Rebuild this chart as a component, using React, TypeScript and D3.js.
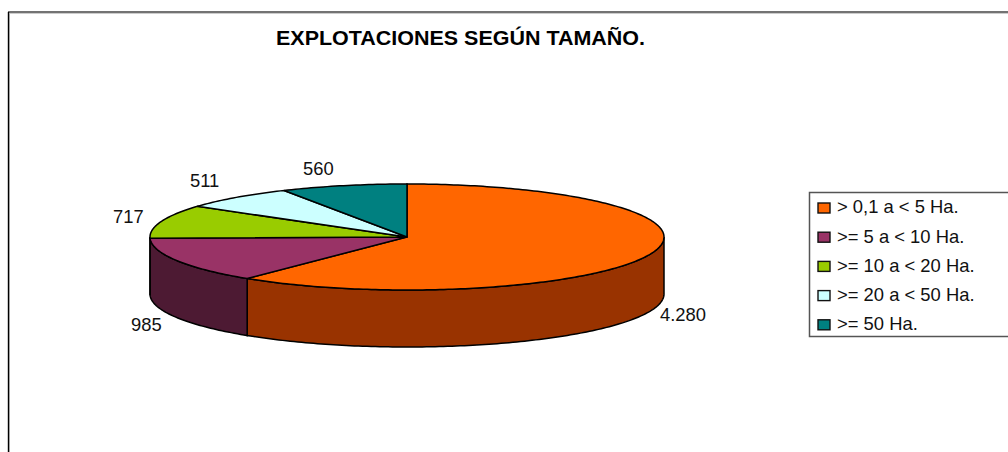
import React from 'react';
import * as d3 from 'd3';

const categories = ['> 0,1 a < 5 Ha.', '>= 5 a < 10 Ha.', '>= 10 a < 20 Ha.', '>= 20 a < 50 Ha.', '>= 50 Ha.'];
const values = [4280, 985, 717, 511, 560];
const valueLabels = ['4.280', '985', '717', '511', '560'];
const topColors = ['#FF6600', '#993366', '#99CC00', '#CCFFFF', '#008080'];
const sideColors = ['#993300', '#4D1A33', '#4D6600', '#668080', '#004040'];

const width = 1008;
const height = 452;
const cx = 407;
const cy = 237;
const rx = 257;
const ry = 53;
const depth = 57;

// label anchor points, picked by eye per slice
const labelPos: [number, number][] = [
  [660, 321],
  [131, 331],
  [113, 223],
  [190, 187],
  [303, 175],
];

const font = '"Liberation Sans", Arial, sans-serif';

const px = (a: number) => cx + rx * Math.sin(a);
const py = (a: number) => cy - ry * Math.cos(a);

const line = d3.line<[number, number]>();

// sample the ellipse between two pie angles
const rim = (a0: number, a1: number, dy = 0): [number, number][] => {
  const n = Math.max(2, Math.ceil((a1 - a0) * 60));
  return d3.range(n + 1).map((i) => {
    const a = a0 + ((a1 - a0) * i) / n;
    return [px(a), py(a) + dy] as [number, number];
  });
};

const slices = d3.pie<number>().sort(null)(values);

export default function App() {
  return (
    <svg
      width={width}
      height={height}
      style={{ position: 'absolute', left: 0, top: 0, display: 'block', background: '#fff' }}
    >
      {/* chart frame */}
      <path d={`M9.5 ${height}V13.5H${width}`} fill="none" stroke="#ccc" strokeWidth={1} />
      <path d={`M8 12H${width}`} fill="none" stroke="#444" strokeWidth={1.6} />
      <path d={`M8.5 ${height}V12`} fill="none" stroke="#000" strokeWidth={1.4} />

      <text
        x={276}
        y={45}
        textLength={369}
        lengthAdjust="spacingAndGlyphs"
        fontFamily={font}
        fontSize={20}
        fontWeight="bold"
        fill="#000"
      >
        EXPLOTACIONES SEGÚN TAMAÑO.
      </text>

      {/* front wall, only the part of each slice facing the viewer */}
      {slices.map((s, i) => {
        const a0 = Math.max(s.startAngle, Math.PI / 2);
        const a1 = Math.min(s.endAngle, (Math.PI * 3) / 2);
        if (a1 <= a0) return null;
        const pts = [...rim(a0, a1), ...rim(a0, a1, depth).reverse()];
        return <path key={i} d={line(pts) + 'Z'} fill={sideColors[i]} stroke="#000" strokeWidth={1.5} />;
      })}

      {/* top face */}
      {slices.map((s, i) => (
        <path
          key={i}
          d={line([[cx, cy], ...rim(s.startAngle, s.endAngle)]) + 'Z'}
          fill={topColors[i]}
          stroke="#000"
          strokeWidth={1.5}
        />
      ))}

      {valueLabels.map((t, i) => (
        <text key={i} x={labelPos[i][0]} y={labelPos[i][1]} fontFamily={font} fontSize={18.4} fill="#111">
          {t}
        </text>
      ))}

      {/* legend */}
      <rect x={809.5} y={192.5} width={210} height={144} fill="#fff" stroke="#555" strokeWidth={1.5} />
      {categories.map((c, i) => {
        const y = 203 + i * 29.2;
        return (
          <g key={c}>
            <rect x={818} y={y} width={12} height={10} fill={topColors[i]} stroke="#111" strokeWidth={1.4} />
            <text x={837} y={y + 10.3} fontFamily={font} fontSize={18.4} fill="#111">
              {c}
            </text>
          </g>
        );
      })}
    </svg>
  );
}
